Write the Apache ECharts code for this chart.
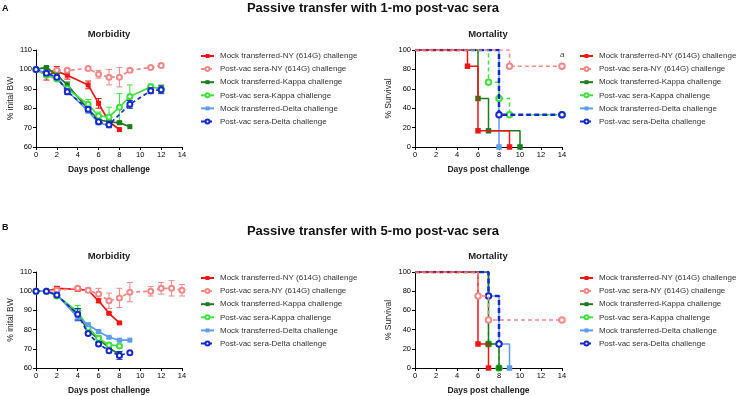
<!DOCTYPE html>
<html>
<head>
<meta charset="utf-8">
<script src="https://cdn.jsdelivr.net/npm/echarts@6/dist/echarts.min.js"></script>
<style>
  html, body { margin: 0; padding: 0; background: #fff; }
  #box { width: 738px; height: 396px; }
</style>
</head>
<body>
<div id="box"></div>
<script>
var myChart = echarts.init(document.getElementById("box"));

var names = [
  "Mock transferred-NY (614G) challenge",
  "Post-vac sera-NY (614G) challenge",
  "Mock transferred-Kappa challenge",
  "Post-vac sera-Kappa challenge",
  "Mock transferred-Delta challenge",
  "Post-vac sera-Delta challenge",
];
var colors = ["#ee1515", "#f08888", "#1d7a1d", "#3fe03f", "#5e9cf0", "#1529c8"];

// ---- A: morbidity (1-mo sera) ----
var morbA_days = [
  [0, 1, 2, 3, 5, 6, 7, 8],
  [0, 1, 2, 3, 5, 6, 7, 8, 9, 11, 12],
  [0, 1, 2, 3, 5, 6, 7, 8, 9],
  [0, 1, 2, 3, 5, 6, 7, 8, 9, 11, 12],
  [0, 1, 2, 3, 5, 6, 7],
  [0, 1, 2, 3, 5, 6, 7, 9, 11, 12],
];
var morbA_vals = [
  [100, 97, 99, 97, 92, 82.5, 73, 69],
  [100, 99, 99.5, 99.5, 100.5, 97.5, 96, 96, 99.5, 101, 102],
  [100, 101, 97, 92, 79.5, 74, 73, 72.5, 70.5],
  [100, 97, 95, 90, 82, 76, 75.5, 80.5, 86, 91, 90],
  [100, 98, 96, 89, 78.5, 72.5, 71],
  [100, 98, 96, 88.5, 79.5, 73, 71.5, 82, 89, 89.5],
];
var morbA_err = [
  [0, 2.5, 2.5, 2, 2, 2.5, 1, 0],
  [0, 1, 1, 1, 0.5, 2, 4, 5, 1, 0.5, 1],
  [0, 0.5, 1, 1.5, 1.5, 1.5, 1, 0.5, 0],
  [0, 1, 1, 1, 2.5, 2, 5, 7, 6, 1.5, 2],
  [0, 1, 1, 1, 1, 1, 1],
  [0, 1, 1, 1.5, 1, 1, 1.5, 2, 1.5, 2],
];

// ---- A: mortality (1-mo sera) ----
var mortA_days = [
  [0, 5, 6, 9],
  [0, 9, 14],
  [0, 6, 7, 10],
  [0, 7, 8, 9, 14],
  [0, 8],
  [0, 8, 14],
];
var mortA_surv = [
  [100, 83.3, 16.7, 0],
  [100, 83.3, 83.3],
  [100, 50, 16.7, 0],
  [100, 66.7, 50, 33.3, 33.3],
  [100, 0],
  [100, 33.3, 33.3],
];

// ---- B: morbidity (5-mo sera) ----
var morbB_days = [
  [0, 1, 2, 4, 5, 6, 7, 8],
  [0, 1, 2, 4, 5, 6, 7, 8, 9, 11, 12, 13, 14],
  [0, 1, 2, 4, 5, 6, 7, 8],
  [0, 1, 2, 4, 5, 6, 7, 8],
  [0, 1, 2, 4, 5, 6, 7, 8, 9],
  [0, 1, 2, 4, 5, 6, 7, 8, 9],
];
var morbB_vals = [
  [100, 100, 101.5, 101, 100.5, 95, 88.5, 83.5],
  [100, 100, 100.5, 101.5, 100.5, 98.5, 95, 96.5, 99.5, 100, 101.5, 101.5, 100.5],
  [100, 100, 98, 88, 79.5, 75, 70.5, 67],
  [100, 100, 97.5, 89.5, 81, 75.5, 72, 71.5],
  [100, 100, 98, 86.5, 82.5, 79, 76, 74.5, 74.5],
  [100, 100, 98, 88, 78, 72.5, 69, 66.5, 68],
];
var morbB_err = [
  [0, 0, 1, 1, 1, 1, 0.5, 0.5],
  [0, 0, 1, 1, 1, 3, 4, 5, 5, 2.5, 3, 4, 3],
  [0, 0, 1, 3, 2, 1.5, 1, 1.5],
  [0, 0, 1, 3, 2, 1.5, 1, 0.5],
  [0, 0, 1, 2, 1, 0.5, 0.5, 0.5, 0],
  [0, 0, 1, 3, 1, 1, 1, 2, 0.5],
];

// ---- B: mortality (5-mo sera) ----
var mortB_days = [
  [0, 6, 7],
  [0, 6, 7, 14],
  [0, 7, 8],
  [0, 7, 8],
  [0, 7, 8, 9],
  [0, 7, 8],
];
var mortB_surv = [
  [100, 25, 0],
  [100, 75, 50, 50],
  [100, 25, 0],
  [100, 25, 0],
  [100, 75, 25, 0],
  [100, 75, 25],
];

var FONT = "Liberation Sans";
var isPost = function (i) { return i % 2 === 1; };
// drawing order in the survival panels (NY on top like the original)
var mortZ = [8, 9, 5, 6, 4, 7];

function morbSeries(gi, days, vals, errs) {
  var out = [];
  for (var i = 0; i < 6; i++) {
    var dashed = i === 1 || i === 5;
    out.push({
      type: "line",
      name: names[i],
      xAxisIndex: gi,
      yAxisIndex: gi,
      z: 3 + i,
      data: days[i].map(function (d, k) { return [d, vals[i][k]]; }),
      symbol: isPost(i) ? "emptyCircle" : "rect",
      symbolSize: 5,
      itemStyle: { color: colors[i], borderWidth: 1.2 },
      lineStyle: { color: colors[i], width: 1.7, type: dashed ? [4, 3] : "solid" },
    });
    (function (c, ii) {
      out.push({
        type: "custom",
        name: "err" + ii,
        xAxisIndex: gi,
        yAxisIndex: gi,
        z: 2 + ii,
        encode: { x: 0, y: [1, 2] },
        data: days[ii]
          .map(function (d, k) {
            var e = errs[ii][k];
            return e > 0 ? [d, vals[ii][k] - e, vals[ii][k] + e] : null;
          })
          .filter(function (r) { return r; }),
        renderItem: function (params, api) {
          var top = api.coord([api.value(0), api.value(2)]);
          var bot = api.coord([api.value(0), api.value(1)]);
          var st = { stroke: c, lineWidth: 1 };
          return {
            type: "group",
            children: [
              { type: "line", shape: { x1: top[0], y1: top[1], x2: bot[0], y2: bot[1] }, style: st },
              { type: "line", shape: { x1: top[0] - 3, y1: top[1], x2: top[0] + 3, y2: top[1] }, style: st },
              { type: "line", shape: { x1: bot[0] - 3, y1: bot[1], x2: bot[0] + 3, y2: bot[1] }, style: st },
            ],
          };
        },
      });
    })(colors[i], i);
  }
  return out;
}

function mortSeries(gi, days, surv) {
  var out = [];
  for (var i = 0; i < 6; i++) {
    var dashed = isPost(i);
    var data = days[i].map(function (d, k) {
      var item = { value: [d, surv[i][k]] };
      if (k === 0) item.symbol = "none";
      return item;
    });
    out.push({
      type: "line",
      name: names[i],
      xAxisIndex: gi,
      yAxisIndex: gi,
      step: "end",
      z: i === 3 && gi === 3 ? 2 : mortZ[i],
      data: data,
      symbol: isPost(i) ? "emptyCircle" : "rect",
      symbolSize: 5.5,
      itemStyle: { color: colors[i], borderWidth: 1.2 },
      lineStyle: {
        color: colors[i],
        width: i === 5 ? 2.5 : 1.5,
        type: dashed ? (i === 5 ? [5, 3] : [4, 3]) : "solid",
      },
    });
  }
  return out;
}

function xAxis(gi) {
  return {
    type: "value",
    gridIndex: gi,
    min: 0,
    max: 14,
    interval: 2,
    name: "Days post challenge",
    nameLocation: "middle",
    nameGap: 18,
    nameTextStyle: { fontFamily: FONT, fontSize: 8.5, fontWeight: "bold", color: "#222" },
    axisLine: { show: true, lineStyle: { color: "#000", width: 1 } },
    axisTick: { show: true, length: 3, lineStyle: { color: "#000" } },
    axisLabel: { fontFamily: FONT, fontSize: 7.5, color: "#000", margin: 4 },
    splitLine: { show: false },
  };
}

function yAxis(gi, morb) {
  return {
    type: "value",
    gridIndex: gi,
    min: morb ? 60 : 0,
    max: morb ? 110 : 100,
    interval: morb ? 10 : 20,
    name: morb ? "% inital BW" : "% Survival",
    nameLocation: "middle",
    nameGap: morb ? 20 : 22,
    nameTextStyle: { fontFamily: FONT, fontSize: 8.5, color: "#222" },
    axisLine: { show: true, lineStyle: { color: "#000", width: 1 } },
    axisTick: { show: true, length: 3, lineStyle: { color: "#000" } },
    axisLabel: { fontFamily: FONT, fontSize: 7.5, color: "#000", margin: 4 },
    splitLine: { show: false },
  };
}

function legend(left, top) {
  return {
    data: names,
    orient: "vertical",
    left: left,
    top: top,
    padding: 0,
    itemWidth: 13,
    itemHeight: 5,
    itemGap: 5.1,
    selectedMode: false,
    textStyle: { fontFamily: FONT, fontSize: 8, color: "#333", padding: [0, 0, 0, 1] },
  };
}

function subTitle(text, x, y) {
  return {
    text: text,
    left: x,
    top: y,
    textAlign: "center",
    padding: 0,
    textStyle: { fontFamily: FONT, fontSize: 9.5, fontWeight: "bold", color: "#222" },
  };
}

var option = {
  animation: false,
  backgroundColor: "#fff",
  title: [
    {
      text: "Passive transfer with 1-mo post-vac sera",
      left: 373, top: 2, textAlign: "center", padding: 0,
      textStyle: { fontFamily: FONT, fontSize: 13, fontWeight: "bold", color: "#111" },
    },
    {
      text: "Passive transfer with 5-mo post-vac sera",
      left: 373, top: 225, textAlign: "center", padding: 0,
      textStyle: { fontFamily: FONT, fontSize: 13, fontWeight: "bold", color: "#111" },
    },
    subTitle("Morbidity", 109, 29),
    subTitle("Mortality", 488, 29),
    subTitle("Morbidity", 109, 251),
    subTitle("Mortality", 488, 251),
  ],
  graphic: [
    { type: "text", left: 2, top: 4, style: { text: "A", font: "bold 9px " + FONT, fill: "#111" } },
    { type: "text", left: 2, top: 223, style: { text: "B", font: "bold 9px " + FONT, fill: "#111" } },
    { type: "text", left: 560, top: 51, style: { text: "a", font: "italic 8px " + FONT, fill: "#444" } },
  ],
  legend: [legend(200, 52), legend(579, 52), legend(200, 274), legend(579, 274)],
  grid: [
    { left: 36, top: 50, width: 146, height: 97 },
    { left: 415, top: 50, width: 147, height: 97 },
    { left: 36, top: 272, width: 146, height: 97 },
    { left: 415, top: 272, width: 147, height: 97 },
  ],
  xAxis: [xAxis(0), xAxis(1), xAxis(2), xAxis(3)],
  yAxis: [yAxis(0, true), yAxis(1, false), yAxis(2, true), yAxis(3, false)],
  series: []
    .concat(morbSeries(0, morbA_days, morbA_vals, morbA_err))
    .concat(mortSeries(1, mortA_days, mortA_surv))
    .concat(morbSeries(2, morbB_days, morbB_vals, morbB_err))
    .concat(mortSeries(3, mortB_days, mortB_surv)),
};

myChart.setOption(option);
</script>
</body>
</html>
